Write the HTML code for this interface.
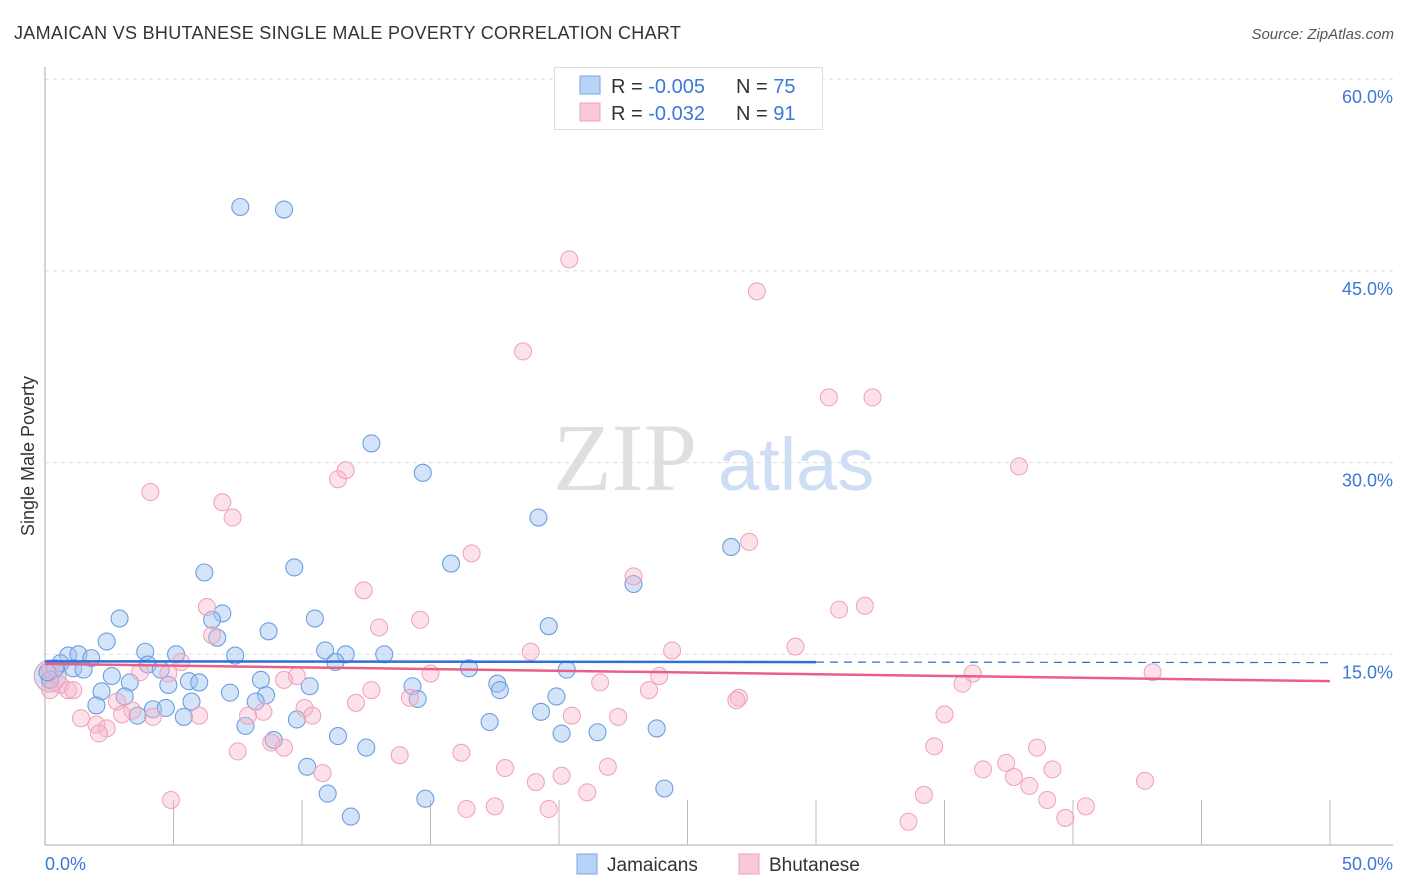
<!DOCTYPE html>
<html><head><meta charset="utf-8"><style>
body{margin:0;background:#fff;font-family:"Liberation Sans",sans-serif;}
svg{display:block}
</style></head><body>
<svg id="c" width="1406" height="892">
<text x="14" y="39" font-size="18" letter-spacing="0.3" fill="#333">JAMAICAN VS BHUTANESE SINGLE MALE POVERTY CORRELATION CHART</text>
<text x="1394" y="39" font-size="15" fill="#555" font-style="italic" text-anchor="end">Source: ZipAtlas.com</text>
<g>
<text x="553" y="490" font-size="96" fill="#d8d8d8" font-family="Liberation Serif,serif" opacity="0.8">ZIP</text>
<text x="718" y="490" font-size="74" fill="#b9d0ee" opacity="0.7">atlas</text>
</g>
<g id="grid"></g>
<g id="axes"></g>
<g id="marks"></g>
<text transform="translate(34,456) rotate(-90)" font-size="18" fill="#333" text-anchor="middle">Single Male Poverty</text>
<g>
<rect x="554.5" y="67.5" width="268" height="62" fill="#fff" stroke="#ddd"/>
<rect x="580" y="76" width="20" height="18" fill="#b8d3f5" stroke="#7aa7e0"/>
<rect x="580" y="103" width="20" height="18" fill="#fbc8d6" stroke="#f0a0b8"/>
<text x="611" y="93" font-size="20" fill="#333">R = <tspan fill="#3b78d8">-0.005</tspan><tspan x="736">N = </tspan><tspan fill="#3b78d8">75</tspan></text>
<text x="611" y="120" font-size="20" fill="#333">R = <tspan fill="#3b78d8">-0.032</tspan><tspan x="736">N = </tspan><tspan fill="#3b78d8"> 91</tspan></text>
</g>
<g>
<rect x="577" y="854" width="20" height="20" fill="#b8d3f5" stroke="#7aa7e0"/>
<text x="607" y="871" font-size="19" fill="#333">Jamaicans</text>
<rect x="739" y="854" width="20" height="20" fill="#fbc8d6" stroke="#f0a0b8"/>
<text x="769" y="871" font-size="19" fill="#333">Bhutanese</text>
</g>
</svg>
<script>
const yTicks=[15,30,45,60];
const yTickLabels=["15.0%","30.0%","45.0%","60.0%"];
const xTicks=[0,5,10,15,20,25,30,35,40,45,50];
const xEndLabels=["0.0%","50.0%"];
const jamX=[7.6,9.3,12.7,14.7,19.2,26.7,15.8,6.2,9.7,22.9,6.9,2.9,10.5,6.5,19.6,8.7,2.4,6.7,3.9,5.1,10.9,11.7,13.2,0.9,1.3,1.8,0.6,0.4,1.1,1.5,4.0,4.5,7.4,11.3,16.5,20.3,2.6,3.3,5.6,6.0,8.4,10.3,14.3,17.6,17.7,2.2,3.1,4.8,7.2,8.6,8.2,14.5,19.9,2.0,4.2,4.7,3.6,5.4,5.7,9.8,17.3,19.3,7.8,8.9,11.4,12.5,20.1,21.5,23.8,10.2,11.0,14.8,24.1,11.9,0.2,0.1];
const jamY=[50.0,49.8,31.5,29.2,25.7,23.4,22.1,21.4,21.8,20.5,18.2,17.8,17.8,17.7,17.2,16.8,16.0,16.3,15.2,15.0,15.3,15.0,15.0,14.9,15.0,14.7,14.3,13.9,13.9,13.8,14.2,13.8,14.9,14.4,13.9,13.8,13.3,12.8,12.9,12.8,13.0,12.5,12.5,12.7,12.2,12.1,11.7,12.6,12.0,11.8,11.3,11.5,11.7,11.0,10.7,10.8,10.2,10.1,11.3,9.9,9.7,10.5,9.4,8.3,8.6,7.7,8.8,8.9,9.2,6.2,4.1,3.7,4.5,2.3,13.0,13.6];
const bhuX=[20.4,27.7,18.6,30.5,32.2,4.1,37.9,11.4,11.7,6.9,7.3,16.6,27.4,12.4,22.9,6.3,14.6,13.0,30.9,31.9,6.5,29.2,24.4,18.9,5.3,3.7,4.8,43.1,36.1,35.7,15.0,9.8,9.3,23.9,21.6,12.7,23.5,0.6,0.9,1.1,0.2,0.2,14.2,2.8,27.0,26.9,12.1,10.1,3.4,8.5,3.0,7.9,1.4,2.0,2.4,2.1,4.2,6.0,10.4,20.5,22.3,35.0,8.8,9.3,7.5,13.8,16.2,34.6,38.6,37.4,17.9,21.9,36.5,39.2,10.8,19.1,20.1,37.7,42.8,38.3,21.1,34.2,4.9,39.0,16.4,17.5,19.6,40.5,33.6,39.7];
const bhuY=[45.9,43.4,38.7,35.1,35.1,27.7,29.7,28.7,29.4,26.9,25.7,22.9,23.8,20.0,21.1,18.7,17.7,17.1,18.5,18.8,16.5,15.6,15.3,15.2,14.4,13.6,13.5,13.6,13.5,12.7,13.5,13.3,13.0,13.3,12.8,12.2,12.2,12.6,12.2,12.2,13.8,12.2,11.6,11.3,11.6,11.4,11.2,10.8,10.6,10.5,10.3,10.2,10.0,9.5,9.2,8.8,10.1,10.2,10.2,10.2,10.1,10.3,8.1,7.7,7.4,7.1,7.3,7.8,7.7,6.5,6.1,6.2,6.0,6.0,5.7,5.0,5.5,5.4,5.1,4.7,4.2,4.0,3.6,3.6,2.9,3.1,2.9,3.1,1.9,2.2];
const jamTrend=[14.45,14.35];
const bhuTrend=[14.25,12.9];

const X0=45,X1=1330,Y0=846,YS=12.78;
const sx=v=>X0+(X1-X0)*v/50;
const sy=v=>Y0-v*YS;
const NS="http://www.w3.org/2000/svg";
function mk(tag,attrs,parent){const e=document.createElementNS(NS,tag);for(const k in attrs)e.setAttribute(k,attrs[k]);parent.appendChild(e);return e;}
const grid=document.getElementById('grid'),axes=document.getElementById('axes'),marks=document.getElementById('marks');
yTicks.forEach((t,i)=>{
  const l=mk('line',{x1:X0,x2:1393,y1:sy(t),y2:sy(t),stroke:'#ddd','stroke-dasharray':'4,4'},grid);
  
  
  const tx=mk('text',{x:1393,y:sy(t)+24,'font-size':18,fill:'#3b78d8','text-anchor':'end'},axes);
  tx.textContent=yTickLabels[i];
  
  
});
const ya=mk('line',{x1:X0,x2:X0,y1:67,y2:845,stroke:'#aaa'},axes);


const xa=mk('line',{x1:X0,x2:1393,y1:845,y2:845,stroke:'#aaa'},axes);


xTicks.forEach(t=>{if(t===0)return;
  const l=mk('line',{x1:sx(t),x2:sx(t),y1:800,y2:845,stroke:'#bbb'},axes);
  
  
});
const xl0=mk('text',{x:45,y:870,'font-size':18,fill:'#3b78d8'},axes);xl0.textContent=xEndLabels[0];


const xl1=mk('text',{x:1393,y:870,'font-size':18,fill:'#3b78d8','text-anchor':'end'},axes);xl1.textContent=xEndLabels[1];



const big1=mk('circle',{cx:sx(0.2),cy:sy(13.3),r:16,fill:'rgba(190,170,210,0.45)',stroke:'#c0a8d8'},marks);


jamX.forEach((x,i)=>{
  const c=mk('circle',{cx:sx(x),cy:sy(jamY[i]),r:8.5,fill:'rgba(160,196,240,0.45)',stroke:'#6d9fe0','stroke-width':1.1},marks);
  
  
});
bhuX.forEach((x,i)=>{
  const c=mk('circle',{cx:sx(x),cy:sy(bhuY[i]),r:8.5,fill:'rgba(248,180,202,0.4)',stroke:'#f0a0b8','stroke-width':1},marks);
  
  
});
const jt=mk('line',{x1:sx(0),x2:sx(30),y1:sy(jamTrend[0]),y2:sy(jamTrend[0]+(jamTrend[1]-jamTrend[0])*0.6),stroke:'#2f6fd6','stroke-width':2.5},marks);


const jd=mk('line',{x1:sx(30),x2:sx(50),y1:sy(jamTrend[0]+(jamTrend[1]-jamTrend[0])*0.6),y2:sy(jamTrend[1]),stroke:'#2f6fd6','stroke-width':1.2,'stroke-dasharray':'8,6'},marks);


const bt=mk('line',{x1:sx(0),x2:sx(50),y1:sy(bhuTrend[0]),y2:sy(bhuTrend[1]),stroke:'#e8608a','stroke-width':2.5},marks);


</script>
</body></html>
